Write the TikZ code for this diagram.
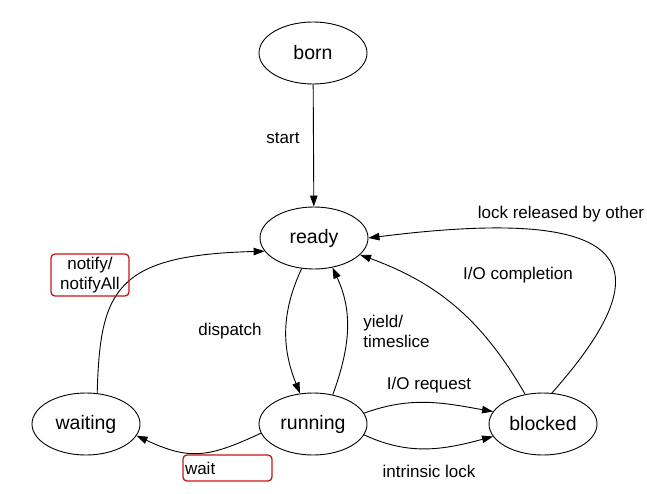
\documentclass[tikz,border=0pt]{standalone}
\usepackage{fontspec}
\setmainfont{Liberation Sans}
\usetikzlibrary{shapes,arrows.meta,calc}
\definecolor{boxred}{RGB}{196,20,24}

\begin{document}
\begin{tikzpicture}[x=1pt,y=1pt,line width=0.9pt,
    state/.style={ellipse, draw, minimum width=108pt, minimum height=62pt,
        inner sep=0pt, font=\fontsize{19.5}{22}\selectfont},
    lbl/.style={font=\fontsize{17}{21}\selectfont},
    redbox/.style={draw=boxred, line width=1.3pt, rounded corners=4pt},
    arr/.style={-{Triangle[length=11pt,width=7.5pt]}}]
\useasboundingbox (0,0) rectangle (647,-494);
% states
\node[state] (born) at (313,-53) {born};
\node[state] (ready) at (314,-238) {ready};
\node[state] (waiting) at (86,-424) {waiting};
\node[state] (running) at (313,-424) {running};
\node[state] (blocked) at (543,-424) {blocked};
%
\draw[arr] (born) -- (ready);
\draw[arr] (ready.-112) to[out=-115,in=112] (running.113);
\draw[arr] (running.56) to[out=70,in=-65] (ready.-58);
\draw[arr] (running.12) to[out=20,in=170] (blocked.166);
\draw[arr] (running.-12) to[out=-25,in=-165] (blocked.-166);
\draw[arr] (blocked.121) to[out=120,in=-20] (ready.-20);
\draw[arr] (blocked.74) .. controls (670,-260) and (630,-205) .. (ready.east);
\draw[arr] (waiting.70) .. controls (100,-290) and (115,-255) .. (ready.195);
\draw[arr] (running.190) to[out=205,in=-25,looseness=1.2] (waiting.-13);
% labels
\node[lbl] (startlbl) at (283,-138) {start};
\node[lbl] (dispatchlbl) at (230,-331) {dispatch};
\node[lbl, align=left, anchor=west, inner sep=0pt] (yieldlbl) at (363,-331)
    {yield/\\[-1pt]timeslice};
\node[lbl] (requestlbl) at (429,-385) {I/O request};
\node[lbl] (intrinsiclbl) at (429,-471) {intrinsic lock};
\node[lbl] (completionlbl) at (518,-275) {I/O completion};
\node[lbl] (releasedlbl) at (561,-214) {lock released by other};
\node[lbl, redbox, align=center, minimum width=78pt, minimum height=42pt,
    inner sep=0pt] (notifylbl) at (90,-275) {notify/\\[-1pt]notifyAll};
\node[lbl, redbox, text width=85pt, align=left, minimum height=26pt,
    inner xsep=2pt, inner ysep=0pt] (waitlbl) at (227.5,-468) {wait};
\end{tikzpicture}
\end{document}
